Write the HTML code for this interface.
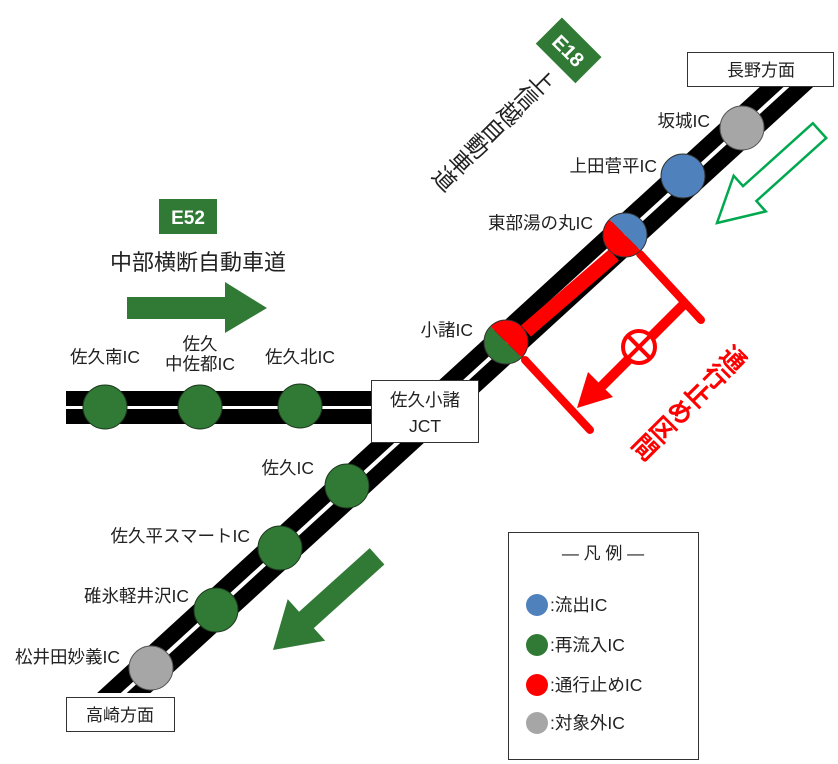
<!DOCTYPE html>
<html><head><meta charset="utf-8"><style>
html,body{margin:0;padding:0;background:#fff;}
body{width:838px;height:764px;position:relative;overflow:hidden;font-family:"Liberation Sans","Noto Sans CJK JP",sans-serif;}
svg{position:absolute;left:0;top:0;}
svg text{font-family:"Liberation Sans","Noto Sans CJK JP",sans-serif;fill:#222;}
.vt{position:absolute;writing-mode:vertical-rl;white-space:nowrap;line-height:1;}
</style></head><body>
<svg width="838" height="764" viewBox="0 0 838 764">
<defs><clipPath id="rc"><rect x="0" y="87" width="838" height="606"/></clipPath></defs>
<rect x="66" y="391" width="320" height="33" fill="#000"/>
<rect x="66" y="406" width="320" height="3" fill="#fff"/>
<g clip-path="url(#rc)">
<line x1="21" y1="787" x2="840" y2="38" stroke="#000" stroke-width="36"/>
<line x1="21" y1="787" x2="840" y2="38" stroke="#fff" stroke-width="4"/>
</g>
<line x1="614" y1="255" x2="526" y2="331" stroke="#ff0000" stroke-width="15"/>
<g stroke="#ff0000" stroke-width="8" stroke-linecap="round" fill="none">
<line x1="640" y1="254" x2="701" y2="320"/>
<line x1="525" y1="360" x2="590" y2="430"/>
</g>
<line x1="683" y1="305" x2="600" y2="388" stroke="#ff0000" stroke-width="10"/>
<polygon points="577,408 588,372 613,397" fill="#ff0000"/>
<g transform="translate(639,347) rotate(45)">
<circle r="16" fill="#fff" stroke="#ff0000" stroke-width="4"/>
<line x1="-16" y1="0" x2="16" y2="0" stroke="#ff0000" stroke-width="4"/>
<line x1="0" y1="-16" x2="0" y2="16" stroke="#ff0000" stroke-width="4"/>
</g>
<g fill="#317a36" stroke="#1e3a1e" stroke-width="1">
<circle cx="105" cy="407" r="22"/>
<circle cx="200" cy="407" r="22"/>
<circle cx="300" cy="406" r="22"/>
<circle cx="347" cy="486" r="22"/>
<circle cx="280" cy="548" r="22"/>
<circle cx="216" cy="610" r="22"/>
</g>
<circle cx="151" cy="668" r="22" fill="#a6a6a6" stroke="#555" stroke-width="1"/>
<circle cx="742" cy="128" r="22" fill="#a6a6a6" stroke="#555" stroke-width="1"/>
<circle cx="683" cy="176" r="22" fill="#4f81bd" stroke="#333" stroke-width="1"/>
<g transform="translate(625,235) rotate(45)">
<path d="M-22,0 A22,22 0 0 1 22,0 Z" fill="#4f81bd"/>
<path d="M-22,0 A22,22 0 0 0 22,0 Z" fill="#ff0000"/>
<circle r="22" fill="none" stroke="#333" stroke-width="1"/>
</g>
<g transform="translate(506,342) rotate(45)">
<path d="M-22,0 A22,22 0 0 1 22,0 Z" fill="#ff0000"/>
<path d="M-22,0 A22,22 0 0 0 22,0 Z" fill="#317a36"/>
<circle r="22" fill="none" stroke="#333" stroke-width="1"/>
</g>
<rect x="687.5" y="52.5" width="146" height="34" fill="#fff" stroke="#333"/>
<text x="761" y="76" font-size="17" text-anchor="middle">長野方面</text>
<rect x="66.5" y="697.5" width="108" height="34" fill="#fff" stroke="#333"/>
<text x="120" y="721" font-size="17" text-anchor="middle">高崎方面</text>
<rect x="371.5" y="380.5" width="107" height="62" fill="#fff" stroke="#333"/>
<text x="425" y="406" font-size="17.5" text-anchor="middle">佐久小諸</text>
<text x="425" y="432" font-size="17.5" text-anchor="middle">JCT</text>
<g font-size="17.5">
<text x="710" y="127" text-anchor="end">坂城IC</text>
<text x="657" y="172" text-anchor="end">上田菅平IC</text>
<text x="593" y="229" text-anchor="end">東部湯の丸IC</text>
<text x="473" y="336" text-anchor="end">小諸IC</text>
<text x="105" y="363" text-anchor="middle">佐久南IC</text>
<text x="200" y="350" text-anchor="middle">佐久</text>
<text x="200" y="370" text-anchor="middle">中佐都IC</text>
<text x="300" y="363" text-anchor="middle">佐久北IC</text>
<text x="314" y="474" text-anchor="end">佐久IC</text>
<text x="250" y="542" text-anchor="end">佐久平スマートIC</text>
<text x="189" y="602" text-anchor="end">碓氷軽井沢IC</text>
<text x="120" y="663" text-anchor="end">松井田妙義IC</text>
</g>
<rect x="159" y="199" width="58" height="35" fill="#317a36"/>
<text x="188" y="224" font-size="19" font-weight="bold" text-anchor="middle" style="fill:#fff">E52</text>
<text x="198" y="270" font-size="22" text-anchor="middle">中部横断自動車道</text>
<polygon points="127,297 225,297 225,282 267,308 225,333 225,319 127,319" fill="#317a36"/>
<g transform="translate(273,650) rotate(138)">
<polygon points="0,0 -45,-28 -45,-11 -140,-11 -140,11 -45,11 -45,28" fill="#317a36"/>
</g>
<g transform="translate(717,223) rotate(138)">
<polygon points="0,0 -44,-24 -44,-10 -138,-10 -138,10 -44,10 -44,24" fill="none" stroke="#00a84f" stroke-width="2.5"/>
</g>
<g transform="translate(569,50) rotate(45)">
<rect x="-28" y="-18" width="56" height="37" fill="#317a36"/>
<text x="0" y="8" font-size="20" font-weight="bold" text-anchor="middle" style="fill:#fff">E18</text>
</g>
<rect x="508.5" y="532.5" width="190" height="227" fill="#fff" stroke="#333"/>
<text x="603" y="559" font-size="17" text-anchor="middle">―  凡  例  ―</text>
<circle cx="537" cy="605" r="11" fill="#4f81bd"/>
<circle cx="537" cy="645" r="11" fill="#317a36"/>
<circle cx="537" cy="685" r="11" fill="#ff0000"/>
<circle cx="537" cy="723" r="11" fill="#a6a6a6"/>
<g font-size="17.5">
<text x="550" y="611">:流出IC</text>
<text x="550" y="651">:再流入IC</text>
<text x="550" y="691">:通行止めIC</text>
<text x="550" y="729">:対象外IC</text>
</g>
</svg>
<div class="vt" style="left:492px;top:128px;font-size:23px;color:#222;transform:translate(-50%,-50%) rotate(45deg);">上信越自動車道</div>
<div class="vt" style="left:688px;top:401px;font-size:25px;font-weight:bold;color:#ff0000;transform:translate(-50%,-50%) rotate(45deg);">通行止め区間</div>
</body></html>
